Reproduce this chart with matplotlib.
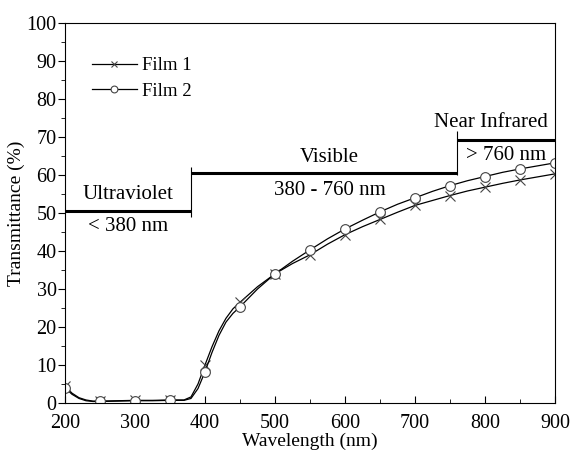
import numpy as np
import matplotlib.pyplot as plt

plt.rcParams['font.family'] = ['Liberation Serif', 'DejaVu Serif']

# wavelength grid (nm) and transmittance (%)
wl = [200, 210, 220, 230, 240, 250, 275, 300, 325, 350, 370, 380, 390, 400,
      410, 420, 430, 440, 450, 475, 500, 525, 550, 575, 600, 625, 650, 675,
      700, 725, 750, 775, 800, 825, 850, 875, 900]
film1 = [4.5, 2.6, 1.4, 0.8, 0.5, 0.5, 0.6, 0.7, 0.7, 0.8, 0.8, 1.6, 5.0, 10.0,
         14.8, 19.0, 22.3, 24.8, 26.5, 30.6, 34.0, 36.7, 39.0, 41.8, 44.3, 46.4,
         48.3, 50.2, 52.0, 53.3, 54.6, 55.8, 56.8, 57.8, 58.7, 59.5, 60.3]
film2 = [4.0, 2.3, 1.2, 0.6, 0.4, 0.4, 0.5, 0.6, 0.6, 0.7, 0.7, 1.2, 3.8, 8.2,
         13.3, 17.8, 21.3, 23.6, 25.3, 30.0, 34.0, 37.3, 40.3, 43.2, 45.8, 48.1,
         50.3, 52.3, 54.0, 55.7, 57.2, 58.5, 59.6, 60.7, 61.6, 62.4, 63.2]

# spectral regions: (start, end, bar level)
regions = [(200, 380, 50.5), (380, 760, 60.4), (760, 900, 69.2)]

marks = [i for i, w in enumerate(wl) if w % 50 == 0]

fig = plt.figure(figsize=(5.72, 4.51), dpi=100)
ax = fig.add_axes([0.1136, 0.1064, 0.8567, 0.8426])

ax.plot(wl, film1, color='black', lw=0.9, marker='x', ms=7, mew=0.8,
        markevery=marks, mec='#444444', label='Film 1')
ax.plot(wl, film2, color='black', lw=0.9, marker='o', ms=7, mew=0.8,
        markevery=marks, mfc='white', mec='#444444', label='Film 2')

for x0, x1, lev in regions:
    ax.hlines(lev, x0, x1, color='black', lw=2.2)
# vertical separators
ax.vlines(380, 49, 62, color='black', lw=0.8)
ax.vlines(760, 60, 71.5, color='black', lw=0.8)

fs = 15
ax.text(290, 55.0, 'Ultraviolet', ha='center', va='center', fontsize=fs)
ax.text(290, 46.4, '< 380 nm', ha='center', va='center', fontsize=fs)
ax.text(578, 64.6, 'Visible', ha='center', va='center', fontsize=fs)
ax.text(578, 56.0, '380 - 760 nm', ha='center', va='center', fontsize=fs)
ax.text(808, 73.8, 'Near Infrared', ha='center', va='center', fontsize=fs)
ax.text(830, 65.2, '> 760 nm', ha='center', va='center', fontsize=fs)

ax.set_xlim(200, 900)
ax.set_ylim(0, 100)
ax.set_xticks(range(200, 901, 100))
ax.set_xticks(range(250, 900, 100), minor=True)
ax.set_yticks(range(0, 101, 10))
ax.set_yticks(range(5, 100, 10), minor=True)
ax.tick_params(axis='x', direction='in', which='major', length=5, labelsize=14.5, pad=8)
ax.tick_params(axis='x', direction='in', which='minor', length=3)
ax.tick_params(axis='y', direction='out', which='major', length=5, labelsize=14.5, pad=1)
ax.tick_params(axis='y', direction='out', which='minor', length=3)

ax.set_xlabel('Wavelength (nm)', fontsize=14, labelpad=0)
ax.set_ylabel('Transmittance (%)', fontsize=14, labelpad=1)

ax.legend(loc='upper left', bbox_to_anchor=(0.02, 0.955), frameon=False,
          fontsize=13.5, handlelength=2.4, handletextpad=0.3, labelspacing=0.45,
          markerscale=0.7)

fig.savefig('out.png', dpi=100)
